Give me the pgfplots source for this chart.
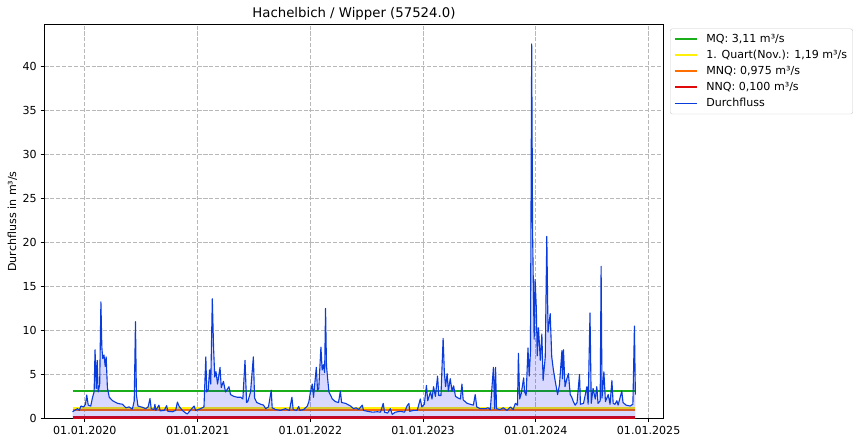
\documentclass[border=0pt]{standalone}
\usepackage{fontspec}
\setmainfont{DejaVu Sans}
\usepackage{pgfplots}
\pgfplotsset{compat=1.18}
\usepackage{pgfplotstable}

\definecolor{mqgreen}{RGB}{26,175,26}
\definecolor{quartyellow}{RGB}{255,240,10}
\definecolor{mnqorange}{RGB}{255,110,0}
\definecolor{nnqred}{RGB}{225,10,10}
\definecolor{flowblue}{RGB}{10,60,220}

\pgfplotstableread{
d q
-40 0.75
-33 0.9
-24 1.1
-18 0.9
-13 1.4
-4 1.3
2 1.6
6 2.65
11 1.5
19 1.4
25 2.4
30 3.0
33 7.8
37 3.4
40 6.6
43 3.0
48 3.8
52 13.25
55 8.1
58 6.8
62 7.2
66 5.9
69 7.0
73 3.5
79 2.4
90 2.0
106 1.7
122 1.6
133 1.2
143 1.3
154 1.05
160 2.0
164 11.0
167 2.7
172 1.4
187 1.25
197 1.1
205 1.3
211 2.25
215 1.1
224 1.0
227 1.6
230 0.9
240 1.5
244 0.85
257 0.9
265 1.45
269 0.8
284 0.75
294 0.9
300 1.85
305 1.4
316 0.9
327 0.6
332 0.5
338 0.75
354 1.4
359 0.9
375 1.1
386 1.3
392 7.0
395 3.0
400 3.3
404 5.5
408 3.9
413 13.6
417 8.1
421 4.7
425 5.3
430 3.9
438 5.8
442 3.5
449 4.2
456 3.0
467 3.6
472 2.7
483 2.5
494 2.4
505 2.4
512 2.2
519 6.6
524 1.8
528 1.9
537 3.0
546 7.0
550 2.3
557 1.8
570 1.6
579 1.5
586 1.1
595 1.3
604 3.2
607 1.2
618 1.0
634 0.9
650 1.1
663 0.9
671 2.4
675 1.0
686 0.9
693 1.35
697 0.9
709 1.0
721 1.4
726 1.9
731 3.0
737 3.9
741 2.4
750 5.8
754 3.2
758 3.4
765 8.1
769 5.5
773 6.1
777 5.2
780 12.5
783 6.0
786 4.8
791 3.0
802 2.2
812 1.9
822 1.8
828 3.1
832 1.8
845 1.7
861 1.4
871 1.1
880 1.2
887 1.0
899 1.5
903 0.9
916 0.8
932 0.7
948 0.75
958 0.7
967 1.7
971 0.7
981 0.6
990 1.1
996 0.45
1006 0.7
1023 0.8
1036 0.7
1044 1.4
1050 1.7
1053 0.8
1065 0.9
1077 0.9
1087 2.2
1092 1.3
1100 1.6
1107 3.75
1111 2.0
1120 3.0
1125 2.2
1130 3.6
1136 2.5
1143 4.8
1147 2.6
1154 2.6
1161 9.1
1165 5.2
1169 3.6
1174 5.1
1178 3.1
1184 4.5
1190 3.1
1195 3.7
1201 2.5
1210 2.3
1217 2.2
1222 3.9
1226 2.1
1239 1.7
1249 1.6
1259 1.5
1265 2.7
1270 1.3
1281 1.1
1298 1.1
1307 1.2
1314 1.0
1324 5.8
1328 1.1
1331 5.8
1334 1.1
1346 1.0
1356 1.2
1368 0.9
1379 1.3
1388 1.0
1395 1.7
1402 1.5
1405 7.4
1409 2.2
1414 2.8
1422 4.6
1425 3.0
1430 2.6
1436 8.0
1440 4.8
1444 7.6
1448 42.6
1451 21.0
1453 16.0
1456 9.0
1459 15.8
1463 12.6
1466 7.1
1470 10.3
1476 6.6
1481 9.6
1485 4.3
1492 7.0
1497 20.7
1501 9.8
1508 11.9
1513 7.0
1518 5.6
1524 4.3
1532 2.7
1538 3.8
1546 7.7
1548 4.5
1551 7.8
1556 3.6
1562 4.5
1567 5.1
1573 2.7
1578 2.4
1583 1.9
1589 1.5
1595 1.8
1603 5.0
1606 1.6
1616 1.7
1627 3.6
1631 1.6
1637 12.0
1641 1.7
1647 3.4
1654 2.2
1659 3.6
1663 1.7
1670 2.0
1673 17.3
1676 2.3
1682 5.3
1687 1.9
1696 2.7
1702 1.6
1708 4.3
1712 1.7
1718 1.6
1724 2.0
1728 1.5
1740 3.1
1744 1.8
1754 1.5
1767 1.4
1776 1.6
1781 10.5
1784 2.7
}\flow

\begin{document}
\begin{tikzpicture}
\useasboundingbox (-40bp,-23.1bp) rectangle (731.3bp,376.5bp);
\begin{axis}[
  at={(0,0)}, anchor=south west,
  scale only axis, width=557.1bp, height=354.4bp,
  xmin=-131, xmax=1875, ymin=0, ymax=44.8,
  xtick={0,366,731,1096,1461,1827},
  xticklabels={01.01.2020,01.01.2021,01.01.2022,01.01.2023,01.01.2024,01.01.2025},
  ytick={0,5,10,15,20,25,30,35,40},
  /pgf/number format/assume math mode=true,
  tick label style={font=\fontsize{10}{12}\selectfont},
  grid=major,
  major grid style={draw=black!28, dash pattern=on 3.7bp off 1.6bp, line width=0.8bp},
  tick align=outside, major tick length=3.5bp,
  tick style={black, line width=0.8bp},
  tick pos=left,
  axis line style={line width=0.8bp},
  title={Hachelbich / Wipper (57524.0)},
  title style={font=\fontsize{12}{14}\selectfont, yshift=-6bp},
  ylabel={Durchfluss in m³/s},
  ylabel style={font=\fontsize{10}{12}\selectfont, xshift=0bp, yshift=-2bp},
  legend style={at={(1,1)}, anchor=north west, xshift=5.9bp, yshift=-3.6bp,
    draw=black!20, rounded corners=2bp, fill=white,
    font=\fontsize{10}{12}\selectfont, row sep=1.5bp, inner xsep=3bp, inner ysep=3bp},
  legend cell align=left,
  legend image code/.code={\draw[#1] (0bp,0bp) -- (20.5bp,0bp); \path (25.5bp,0bp);},
]
\addplot[mqgreen, line width=2bp] coordinates {(-40,3.11) (1784,3.11)};
\addlegendentry{MQ: 3,11 m³/s}
\addplot[quartyellow, line width=2bp] coordinates {(-40,1.19) (1784,1.19)};
\addlegendentry{1. Quart(Nov.): 1,19 m³/s}
\addplot[mnqorange, line width=2bp] coordinates {(-40,0.975) (1784,0.975)};
\addlegendentry{MNQ: 0,975 m³/s}
\addplot[nnqred, line width=2bp] coordinates {(-40,0.1) (1784,0.1)};
\addlegendentry{NNQ: 0,100 m³/s}
\addplot[draw=none, fill=blue, fill opacity=0.15, forget plot] table[x=d,y=q]{\flow} \closedcycle;
\addplot[flowblue, line width=1bp, line join=round] table[x=d,y=q]{\flow};
\addlegendentry{Durchfluss}
\end{axis}
\end{tikzpicture}
\end{document}
